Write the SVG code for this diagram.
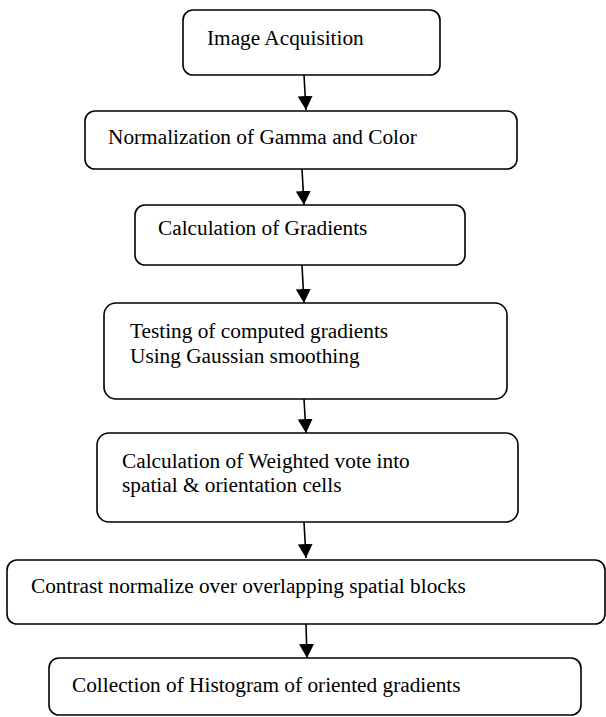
<svg xmlns="http://www.w3.org/2000/svg" width="606" height="717" viewBox="0 0 606 717">
<style>
.box{fill:#fff;stroke:#000;stroke-width:1.6}
.lbl{font-family:"Liberation Serif","Times New Roman",serif;font-size:21.3px;fill:#000}
.con{stroke:#000;stroke-width:1.6;fill:none;marker-end:url(#ah)}
</style>
<defs>
<marker id="ah" markerUnits="userSpaceOnUse" markerWidth="16" markerHeight="15" refX="14" refY="7.5" orient="auto">
<path d="M0,0 L14,7.5 L0,15 Z" fill="#000"/>
</marker>
</defs>
<rect width="606" height="717" fill="#fff"/>
<g id="n1"><rect class="box" x="183" y="10" width="257" height="65" rx="10"/><text class="lbl" x="207" y="45">Image Acquisition</text></g>
<g id="n2"><rect class="box" x="85" y="111" width="432" height="58" rx="10"/><text class="lbl" x="108" y="144">Normalization of Gamma and Color</text></g>
<g id="n3"><rect class="box" x="135" y="205" width="330" height="60" rx="10"/><text class="lbl" x="158" y="235">Calculation of Gradients</text></g>
<g id="n4"><rect class="box" x="104" y="303" width="403" height="96" rx="12"/><text class="lbl" x="130" y="338">Testing of computed gradients</text><text class="lbl" x="130" y="363">Using Gaussian smoothing</text></g>
<g id="n5"><rect class="box" x="97" y="433" width="421" height="89" rx="12"/><text class="lbl" x="122" y="468">Calculation of Weighted vote into</text><text class="lbl" x="122" y="492">spatial &amp; orientation cells</text></g>
<g id="n6"><rect class="box" x="7" y="560" width="598" height="64" rx="10"/><text class="lbl" x="31" y="593">Contrast normalize over overlapping spatial blocks</text></g>
<g id="n7"><rect class="box" x="49" y="658" width="532" height="57" rx="10"/><text class="lbl" x="72" y="692">Collection of Histogram of oriented gradients</text></g>
<g id="connectors">
<line class="con" x1="304" y1="75" x2="306" y2="110"/>
<line class="con" x1="302" y1="169" x2="304" y2="205"/>
<line class="con" x1="302" y1="265" x2="304" y2="303"/>
<line class="con" x1="304" y1="399" x2="306" y2="433"/>
<line class="con" x1="304" y1="522" x2="306" y2="558"/>
<line class="con" x1="306" y1="624" x2="307" y2="658"/>
</g>
</svg>
